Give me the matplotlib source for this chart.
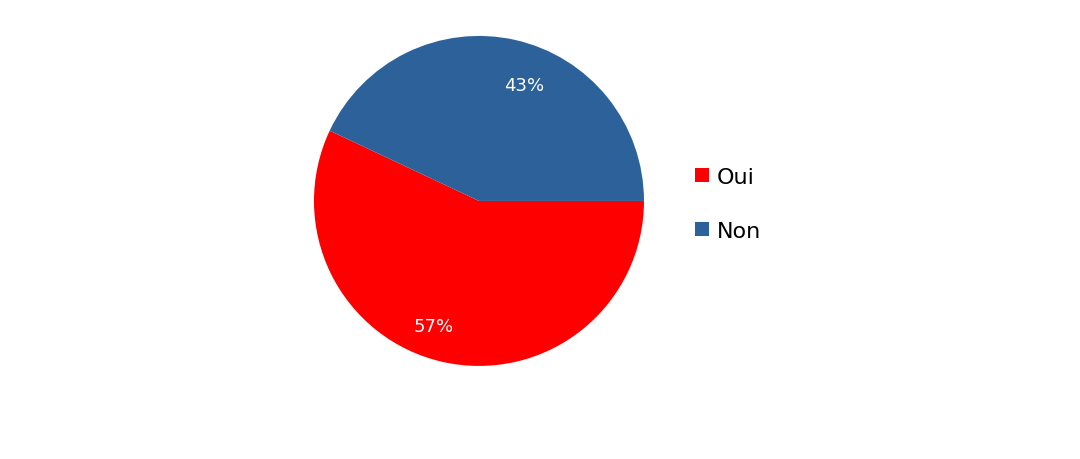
import numpy as np
import matplotlib.pyplot as plt

labels = ['Oui', 'Non']
values = [57, 43]
colors = ['#FF0000', '#2C6199']

fig = plt.figure(figsize=(10.8, 4.6), dpi=100)
ax = fig.add_axes([0.2907, 0.2023, 0.3056, 0.7174])

wedges, texts, autotexts = ax.pie(values, colors=colors, startangle=0, counterclock=False,
                                  autopct='%1.0f%%', pctdistance=0.77,
                                  textprops={'color': 'white', 'fontsize': 13})
# labels placed a bit clockwise of the wedge middle, like the original
for w, t in zip(wedges, autotexts):
    ang = np.deg2rad((w.theta1 + w.theta2) / 2 - 8)
    t.set_position((0.78 * np.cos(ang), 0.78 * np.sin(ang) - 0.025))

ax.set_xlim(-1, 1)
ax.set_ylim(-1, 1)
ax.set_aspect('equal')

fig.legend(wedges, labels, loc='center left', bbox_to_anchor=(0.625, 0.555),
           frameon=False, fontsize=16, handlelength=0.63, handleheight=0.63,
           labelspacing=1.52, handletextpad=0.35)

fig.savefig('out.png', dpi=100)
